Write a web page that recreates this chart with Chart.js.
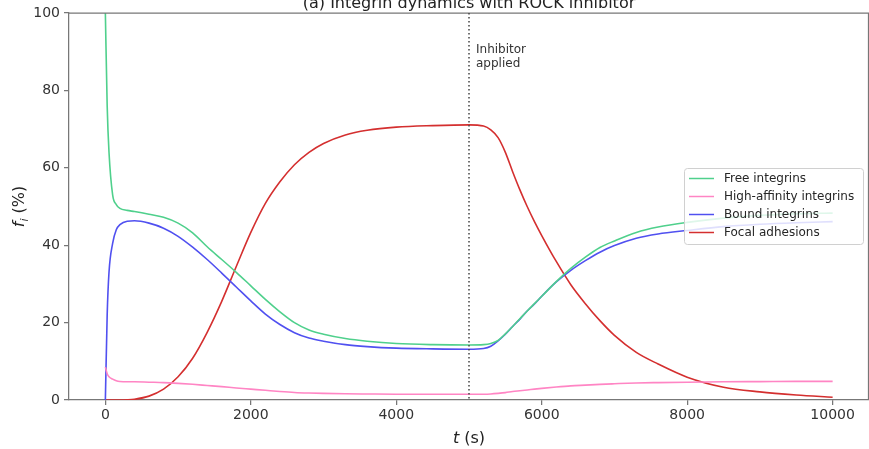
<!DOCTYPE html>
<html>
<head>
<meta charset="utf-8">
<script src="https://cdn.jsdelivr.net/npm/chart.js@4.4.0/dist/chart.umd.min.js"></script>
<style>
html, body { margin: 0; padding: 0; background: #fff; }
#wrap { width: 869px; height: 449px; }
</style>
</head>
<body>
<div id="wrap"><canvas id="myChart" width="869" height="449"></canvas></div>
<script>
// time (s)
const times = [0, 25, 50, 100, 150, 200, 300, 400, 600, 800,
  1000, 1200, 1400, 1600, 1800, 2000, 2200, 2400, 2600, 2800, 3000,
  3300, 3600, 4000, 4500, 5000,
  5200, 5300, 5400, 5500, 5600, 5700, 5800, 5900, 6000, 6200, 6400, 6600, 6800, 7000,
  7300, 7600, 8000, 8500, 9000, 9500, 10000];
const freeIntegrins = [100, 76, 64, 53, 50.5, 49.5, 49, 48.7, 48, 47.2,
  45.7, 43.2, 39.6, 36.3, 33, 29.5, 26, 22.8, 20, 18.1, 17,
  15.9, 15.2, 14.6, 14.3, 14.2,
  14.3, 14.6, 15.4, 17.1, 19, 21, 23, 24.9, 26.8, 30.6, 34, 36.9, 39.4, 41.1,
  43.3, 44.7, 45.9, 47, 47.7, 48.1, 48.3];
const highAffinity = [8.5, 6.8, 6, 5.4, 5, 4.8, 4.7, 4.7, 4.6, 4.5,
  4.3, 4.05, 3.75, 3.45, 3.1, 2.8, 2.5, 2.2, 1.95, 1.8, 1.7,
  1.6, 1.55, 1.5, 1.5, 1.5,
  1.5, 1.55, 1.7, 1.9, 2.2, 2.4, 2.6, 2.8, 3, 3.35, 3.65, 3.85, 4.05, 4.2,
  4.4, 4.5, 4.6, 4.7, 4.75, 4.8, 4.8];
const boundIntegrins = [0, 22, 33, 40.5, 44, 45.3, 46.2, 46.3, 45.7, 44.4,
  42.3, 39.5, 36.3, 32.8, 29.2, 25.6, 22.2, 19.5, 17.4, 16, 15.2,
  14.3, 13.8, 13.4, 13.2, 13.1,
  13.3, 13.9, 15.3, 17, 19, 20.9, 23, 24.8, 26.8, 30.5, 33.5, 36, 38.2, 39.9,
  41.8, 42.9, 43.8, 44.8, 45.4, 45.8, 46.1];
const focalAdhesions = [0, 0, 0, 0, 0, 0, 0.05, 0.2, 1, 2.8,
  6, 10.8, 17.5, 25.5, 34.5, 43.3, 50.8, 56.4, 60.8, 64, 66.3,
  68.5, 69.7, 70.5, 70.9, 71.1,
  70.8, 69.8, 67.8, 64, 59, 54.3, 50, 46.1, 42.5, 35.8, 29.8, 24.9, 20.5, 16.7,
  12.3, 9.3, 5.9, 3.3, 2.1, 1.3, 0.7];

const seriesNames = ["Free integrins", "High-affinity integrins", "Bound integrins", "Focal adhesions"];
const seriesColors = ["#4fd08c", "#ff85c4", "#5050f0", "#d42f2f"];
const xTicks = [0, 2000, 4000, 6000, 8000, 10000];
const yTicks = [0, 20, 40, 60, 80, 100];
const inhibitorTime = 5000;

const FONT = "'DejaVu Sans', sans-serif";
const series = [freeIntegrins, highAffinity, boundIntegrins, focalAdhesions];

const decor = {
  id: "decor",
  afterDatasetsDraw(chart) {
    const { ctx, chartArea: a, scales: { x } } = chart;
    ctx.save();
    // top + right spines
    ctx.strokeStyle = "#777";
    ctx.lineWidth = 1.25;
    ctx.beginPath();
    ctx.moveTo(a.left, a.top);
    ctx.lineTo(a.right - 0.5, a.top);
    ctx.lineTo(a.right - 0.5, a.bottom);
    ctx.stroke();

    // inhibitor line
    const xp = x.getPixelForValue(inhibitorTime);
    ctx.strokeStyle = "#444";
    ctx.lineWidth = 1.5;
    ctx.setLineDash([1.5, 2.5]);
    ctx.beginPath();
    ctx.moveTo(xp, a.top);
    ctx.lineTo(xp, a.bottom);
    ctx.stroke();
    ctx.setLineDash([]);

    ctx.fillStyle = "#333";
    ctx.font = "12px " + FONT;
    ctx.textAlign = "left";
    ctx.textBaseline = "alphabetic";
    ctx.fillText("Inhibitor", xp + 7, 53);
    ctx.fillText("applied", xp + 7, 67);

    // legend
    const lx = 684, ly = 168, lw = 179, lh = 76;
    ctx.fillStyle = "rgba(255,255,255,0.82)";
    ctx.strokeStyle = "#d0d0d0";
    ctx.lineWidth = 1;
    ctx.beginPath();
    ctx.roundRect(lx + 0.5, ly + 0.5, lw, lh, 3);
    ctx.fill();
    ctx.stroke();
    ctx.textBaseline = "middle";
    seriesNames.forEach((name, i) => {
      const cy = 178.5 + i * 18;
      ctx.strokeStyle = seriesColors[i];
      ctx.lineWidth = 1.5;
      ctx.beginPath();
      ctx.moveTo(689, cy);
      ctx.lineTo(714, cy);
      ctx.stroke();
      ctx.fillStyle = "#262626";
      ctx.fillText(name, 724, cy);
    });

    // title (cut at the top)
    ctx.fillStyle = "#222";
    ctx.font = "16px " + FONT;
    ctx.textAlign = "center";
    ctx.textBaseline = "alphabetic";
    ctx.fillText("(a) Integrin dynamics with ROCK inhibitor", (a.left + a.right) / 2, 7.5);

    // x axis title
    ctx.textAlign = "left";
    ctx.font = "italic 16px " + FONT;
    const wt = ctx.measureText("t").width;
    ctx.font = "16px " + FONT;
    const ws = ctx.measureText(" (s)").width;
    const sx = (a.left + a.right) / 2 - (wt + ws) / 2;
    ctx.font = "italic 16px " + FONT;
    ctx.fillText("t", sx, 443);
    ctx.font = "16px " + FONT;
    ctx.fillText(" (s)", sx + wt, 443);

    // y axis title
    ctx.translate(24, (a.top + a.bottom) / 2);
    ctx.rotate(-Math.PI / 2);
    ctx.font = "italic 16px " + FONT;
    const wf = ctx.measureText("f").width;
    ctx.font = "italic 11px " + FONT;
    const wi = ctx.measureText("i").width;
    ctx.font = "16px " + FONT;
    const wp = ctx.measureText(" (%)").width;
    let tx = -(wf + wi + wp) / 2;
    ctx.font = "italic 16px " + FONT;
    ctx.fillText("f", tx, 0);
    tx += wf;
    ctx.font = "italic 11px " + FONT;
    ctx.fillText("i", tx, 4);
    tx += wi;
    ctx.font = "16px " + FONT;
    ctx.fillText(" (%)", tx, 0);
    ctx.restore();
  }
};

new Chart(document.getElementById("myChart"), {
  type: "line",
  data: {
    datasets: series.map((vals, i) => ({
      label: seriesNames[i],
      data: times.map((t, j) => ({ x: t, y: vals[j] })),
      borderColor: seriesColors[i],
      borderWidth: 1.6,
      pointRadius: 0,
      cubicInterpolationMode: "monotone",
      fill: false
    }))
  },
  options: {
    responsive: false,
    animation: false,
    devicePixelRatio: 1,
    layout: { padding: { top: 13, right: 0, left: 0, bottom: 0 } },
    plugins: { legend: { display: false }, title: { display: false }, tooltip: { enabled: false } },
    scales: {
      x: {
        type: "linear",
        min: -500,
        max: 10500,
        afterBuildTicks: s => { s.ticks = xTicks.map(v => ({ value: v })); },
        afterFit: s => { s.height = 49; },
        grid: { drawOnChartArea: false, drawTicks: true, tickLength: 5, color: "#777", lineWidth: 1.25 },
        border: { color: "#777", width: 1.25 },
        ticks: { font: { family: FONT, size: 14 }, color: "#333", padding: 2, maxRotation: 0, callback: v => String(v) }
      },
      y: {
        min: 0,
        max: 100,
        afterBuildTicks: s => { s.ticks = yTicks.map(v => ({ value: v })); },
        afterFit: s => { s.width = 69; },
        grid: { drawOnChartArea: false, drawTicks: true, tickLength: 5, color: "#777", lineWidth: 1.25 },
        border: { color: "#777", width: 1.25 },
        ticks: { font: { family: FONT, size: 14 }, color: "#333", padding: 4, callback: v => String(v) }
      }
    }
  },
  plugins: [decor]
});
</script>
</body>
</html>
